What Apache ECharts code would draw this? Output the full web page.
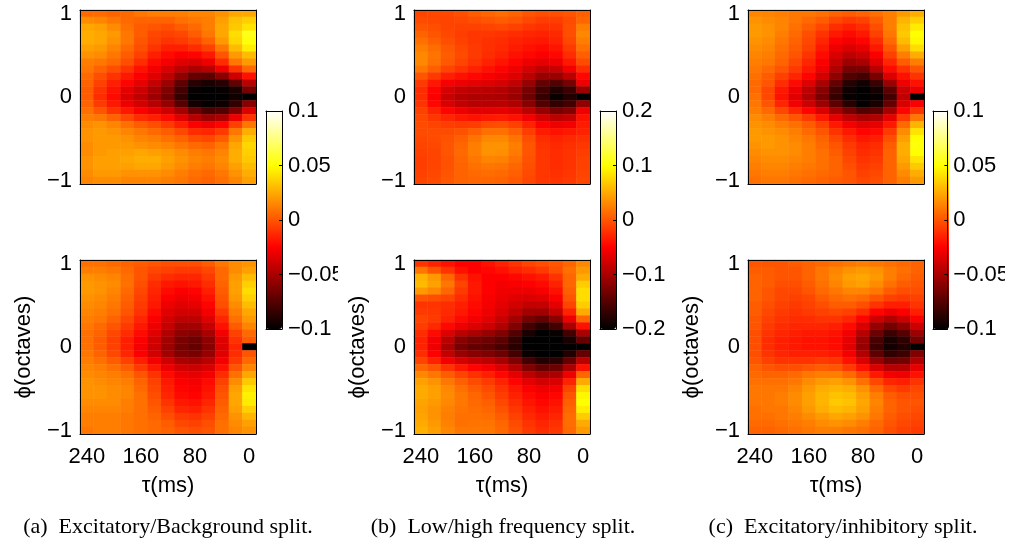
<!DOCTYPE html>
<html>
<head>
<meta charset="utf-8">
<script src="https://cdn.jsdelivr.net/npm/echarts@6/dist/echarts.min.js"></script>
<style>html,body{margin:0;padding:0;background:#fff;}#chart{width:1012px;height:548px;}</style>
</head>
<body>
<div id="chart"></div>
<script>
// ---- axis categories / tick labels ----
const tauLabels = [240,220,200,180,160,140,120,100,80,60,40,20,0];
const phiLabels = [-1,-0.917,-0.833,-0.75,-0.667,-0.583,-0.5,-0.417,-0.333,-0.25,-0.167,-0.083,0,0.083,0.167,0.25,0.333,0.417,0.5,0.583,0.667,0.75,0.833,0.917,1];
const captions = ['(a)  Excitatory/Background split.', '(b)  Low/high frequency split.', '(c)  Excitatory/inhibitory split.'];
const cbarRangeA = [-0.1, 0.1, 0.05];
const cbarRangeB = [-0.2, 0.2, 0.1];
const cbarRangeC = [-0.1, 0.1, 0.05];

// ---- values: rows from phi=1 (top) to phi=-1 (bottom), columns tau 240 -> 0 ----
const excBgTop = [
[0.006,0.006,0.004,0.006,0.010,0.012,0.012,0.012,0.014,0.014,0.018,0.024,0.024],
[0.016,0.014,0.010,0.006,0.004,0.004,0.004,0.008,0.010,0.012,0.022,0.032,0.036],
[0.024,0.022,0.016,0.008,0.002,0.000,-0.002,0.002,0.006,0.012,0.024,0.034,0.042],
[0.026,0.024,0.020,0.010,0.002,-0.004,-0.006,-0.004,0.002,0.010,0.024,0.040,0.055],
[0.026,0.024,0.018,0.010,0.000,-0.006,-0.010,-0.008,-0.004,0.004,0.020,0.038,0.052],
[0.022,0.020,0.014,0.006,-0.002,-0.010,-0.016,-0.016,-0.012,-0.006,0.010,0.030,0.045],
[0.018,0.016,0.010,0.002,-0.006,-0.016,-0.022,-0.026,-0.024,-0.018,0.000,0.020,0.030],
[0.012,0.010,0.006,-0.002,-0.012,-0.022,-0.028,-0.034,-0.036,-0.030,-0.012,0.010,0.020],
[0.010,0.004,-0.002,-0.010,-0.020,-0.028,-0.036,-0.044,-0.050,-0.046,-0.030,-0.010,0.006],
[0.006,-0.002,-0.010,-0.018,-0.026,-0.034,-0.044,-0.058,-0.070,-0.072,-0.060,-0.040,-0.020],
[0.004,-0.006,-0.016,-0.024,-0.032,-0.042,-0.054,-0.072,-0.088,-0.092,-0.088,-0.070,-0.045],
[0.002,-0.010,-0.020,-0.032,-0.040,-0.050,-0.062,-0.080,-0.098,-0.100,-0.098,-0.092,-0.065],
[0.002,-0.012,-0.022,-0.036,-0.044,-0.054,-0.066,-0.085,-0.100,-0.100,-0.100,-0.095,-0.100],
[0.004,-0.008,-0.018,-0.030,-0.038,-0.046,-0.056,-0.074,-0.094,-0.098,-0.096,-0.085,-0.060],
[0.008,0.000,-0.010,-0.018,-0.026,-0.032,-0.040,-0.052,-0.068,-0.078,-0.076,-0.062,-0.035],
[0.012,0.010,0.004,-0.004,-0.012,-0.016,-0.022,-0.034,-0.046,-0.054,-0.050,-0.030,-0.010],
[0.016,0.018,0.014,0.008,0.002,-0.002,-0.008,-0.016,-0.026,-0.030,-0.024,-0.006,0.010],
[0.018,0.020,0.018,0.014,0.010,0.006,0.002,-0.004,-0.012,-0.014,-0.008,0.010,0.026],
[0.018,0.020,0.020,0.018,0.014,0.012,0.008,0.004,-0.002,-0.004,0.002,0.018,0.034],
[0.016,0.020,0.020,0.020,0.018,0.016,0.014,0.010,0.006,0.004,0.010,0.024,0.038],
[0.016,0.020,0.022,0.022,0.024,0.022,0.020,0.016,0.012,0.010,0.014,0.026,0.036],
[0.018,0.022,0.022,0.024,0.026,0.026,0.022,0.018,0.014,0.012,0.016,0.026,0.034],
[0.018,0.022,0.022,0.022,0.024,0.024,0.020,0.016,0.012,0.010,0.014,0.022,0.030],
[0.016,0.020,0.020,0.018,0.018,0.018,0.016,0.012,0.008,0.006,0.010,0.018,0.026],
[0.014,0.016,0.016,0.014,0.014,0.014,0.012,0.010,0.006,0.004,0.008,0.014,0.022]
];
const excBgBottom = [
[0.008,0.008,0.006,0.004,0.002,0.000,-0.002,-0.002,-0.002,0.002,0.010,0.016,0.018],
[0.012,0.012,0.010,0.006,0.000,-0.004,-0.006,-0.008,-0.008,-0.004,0.006,0.016,0.022],
[0.018,0.016,0.014,0.008,0.000,-0.008,-0.012,-0.014,-0.014,-0.008,0.006,0.020,0.030],
[0.020,0.018,0.016,0.008,-0.002,-0.012,-0.018,-0.020,-0.018,-0.012,0.004,0.022,0.036],
[0.020,0.018,0.014,0.006,-0.004,-0.014,-0.022,-0.026,-0.024,-0.016,0.002,0.022,0.040],
[0.018,0.016,0.012,0.004,-0.006,-0.016,-0.026,-0.030,-0.028,-0.020,0.000,0.020,0.036],
[0.016,0.014,0.010,0.002,-0.008,-0.018,-0.030,-0.034,-0.032,-0.024,-0.002,0.016,0.030],
[0.014,0.012,0.008,0.000,-0.010,-0.022,-0.034,-0.038,-0.038,-0.028,-0.008,0.012,0.024],
[0.012,0.010,0.004,-0.004,-0.014,-0.026,-0.038,-0.044,-0.044,-0.034,-0.014,0.008,0.020],
[0.010,0.006,0.000,-0.008,-0.018,-0.030,-0.042,-0.052,-0.052,-0.042,-0.020,0.002,0.014],
[0.008,0.004,-0.004,-0.012,-0.022,-0.034,-0.048,-0.058,-0.060,-0.050,-0.028,-0.006,0.006],
[0.008,0.002,-0.006,-0.016,-0.026,-0.038,-0.052,-0.064,-0.068,-0.058,-0.034,-0.010,0.002],
[0.008,0.002,-0.006,-0.016,-0.028,-0.040,-0.054,-0.066,-0.070,-0.060,-0.036,-0.014,-0.100],
[0.010,0.004,-0.004,-0.014,-0.026,-0.038,-0.052,-0.062,-0.064,-0.056,-0.034,-0.012,0.000],
[0.012,0.008,0.002,-0.006,-0.016,-0.028,-0.040,-0.050,-0.052,-0.046,-0.028,-0.008,0.006],
[0.014,0.012,0.008,0.002,-0.008,-0.018,-0.030,-0.038,-0.040,-0.036,-0.020,0.000,0.014],
[0.016,0.014,0.012,0.008,0.000,-0.010,-0.022,-0.030,-0.032,-0.028,-0.012,0.008,0.024],
[0.018,0.016,0.014,0.012,0.004,-0.006,-0.018,-0.026,-0.028,-0.022,-0.006,0.016,0.034],
[0.018,0.018,0.016,0.014,0.006,-0.004,-0.016,-0.024,-0.026,-0.020,-0.002,0.022,0.042],
[0.018,0.018,0.016,0.014,0.008,-0.002,-0.014,-0.022,-0.024,-0.018,0.000,0.024,0.046],
[0.016,0.016,0.016,0.012,0.008,0.000,-0.010,-0.018,-0.020,-0.014,0.002,0.024,0.044],
[0.014,0.014,0.014,0.012,0.008,0.002,-0.006,-0.014,-0.016,-0.010,0.004,0.022,0.036],
[0.012,0.012,0.012,0.010,0.008,0.004,-0.002,-0.008,-0.010,-0.006,0.006,0.018,0.028],
[0.012,0.012,0.012,0.010,0.008,0.006,0.002,-0.004,-0.006,-0.002,0.008,0.016,0.022],
[0.010,0.012,0.012,0.010,0.008,0.006,0.004,0.000,-0.002,0.000,0.008,0.014,0.018]
];
const lowHighTop = [
[-0.010,-0.008,-0.008,-0.004,0.004,0.010,0.014,0.008,0.000,-0.004,-0.004,0.000,0.006],
[-0.006,-0.008,-0.010,-0.008,-0.004,0.000,0.004,0.000,-0.008,-0.014,-0.014,-0.006,0.010],
[0.000,-0.004,-0.010,-0.012,-0.012,-0.010,-0.008,-0.012,-0.018,-0.022,-0.020,-0.004,0.024],
[0.008,0.000,-0.008,-0.014,-0.018,-0.018,-0.020,-0.024,-0.028,-0.030,-0.026,-0.004,0.030],
[0.016,0.006,-0.004,-0.012,-0.018,-0.022,-0.024,-0.030,-0.034,-0.036,-0.030,-0.008,0.024],
[0.024,0.014,0.002,-0.008,-0.016,-0.022,-0.026,-0.034,-0.040,-0.044,-0.038,-0.016,0.016],
[0.030,0.018,0.004,-0.006,-0.016,-0.024,-0.030,-0.040,-0.046,-0.052,-0.046,-0.024,0.006],
[0.030,0.016,0.002,-0.010,-0.020,-0.030,-0.038,-0.048,-0.060,-0.066,-0.060,-0.036,-0.006],
[0.020,0.006,-0.010,-0.020,-0.030,-0.040,-0.048,-0.058,-0.074,-0.086,-0.082,-0.056,-0.024],
[0.000,-0.016,-0.032,-0.040,-0.046,-0.054,-0.060,-0.070,-0.090,-0.110,-0.110,-0.090,-0.046],
[-0.016,-0.036,-0.054,-0.060,-0.064,-0.068,-0.074,-0.086,-0.110,-0.140,-0.150,-0.130,-0.060],
[-0.024,-0.048,-0.074,-0.084,-0.088,-0.090,-0.094,-0.104,-0.130,-0.160,-0.180,-0.165,-0.110],
[-0.024,-0.052,-0.082,-0.094,-0.098,-0.098,-0.100,-0.110,-0.136,-0.168,-0.195,-0.180,-0.200],
[-0.020,-0.046,-0.072,-0.086,-0.092,-0.092,-0.090,-0.096,-0.120,-0.150,-0.170,-0.160,-0.115],
[-0.012,-0.030,-0.048,-0.060,-0.068,-0.066,-0.064,-0.070,-0.090,-0.112,-0.130,-0.122,-0.060],
[-0.008,-0.018,-0.028,-0.036,-0.040,-0.036,-0.034,-0.040,-0.056,-0.076,-0.090,-0.084,-0.040],
[-0.006,-0.010,-0.014,-0.016,-0.014,-0.006,-0.004,-0.012,-0.030,-0.050,-0.060,-0.056,-0.034],
[-0.006,-0.006,-0.006,-0.002,0.006,0.016,0.016,0.006,-0.014,-0.034,-0.040,-0.036,-0.030],
[-0.008,-0.006,-0.002,0.006,0.018,0.030,0.030,0.018,-0.004,-0.024,-0.030,-0.026,-0.022],
[-0.010,-0.008,0.000,0.010,0.024,0.036,0.036,0.024,0.000,-0.020,-0.026,-0.022,-0.018],
[-0.012,-0.010,0.000,0.012,0.024,0.036,0.034,0.022,0.000,-0.018,-0.024,-0.020,-0.014],
[-0.014,-0.010,-0.002,0.010,0.020,0.028,0.026,0.016,-0.002,-0.018,-0.024,-0.020,-0.012],
[-0.014,-0.010,-0.002,0.008,0.016,0.020,0.018,0.010,-0.004,-0.018,-0.024,-0.020,-0.012],
[-0.012,-0.008,0.000,0.008,0.012,0.014,0.012,0.006,-0.006,-0.018,-0.022,-0.018,-0.010],
[-0.010,-0.006,0.002,0.008,0.010,0.010,0.008,0.002,-0.008,-0.018,-0.020,-0.016,-0.008]
];
const lowHighBottom = [
[-0.020,-0.030,-0.040,-0.050,-0.050,-0.040,-0.030,-0.020,-0.010,-0.004,0.000,0.010,0.030],
[0.020,0.000,-0.020,-0.040,-0.050,-0.046,-0.040,-0.030,-0.024,-0.016,-0.004,0.016,0.040],
[0.055,0.040,0.010,-0.020,-0.040,-0.050,-0.050,-0.046,-0.040,-0.034,-0.020,0.010,0.050],
[0.060,0.045,0.020,-0.010,-0.036,-0.050,-0.056,-0.054,-0.050,-0.044,-0.030,0.010,0.070],
[0.040,0.030,0.010,-0.016,-0.036,-0.050,-0.058,-0.060,-0.060,-0.054,-0.040,0.006,0.080],
[0.000,-0.004,-0.010,-0.024,-0.040,-0.054,-0.062,-0.068,-0.072,-0.068,-0.052,0.000,0.080],
[-0.020,-0.020,-0.024,-0.032,-0.044,-0.056,-0.066,-0.076,-0.086,-0.084,-0.066,-0.010,0.070],
[-0.016,-0.018,-0.026,-0.036,-0.048,-0.060,-0.072,-0.088,-0.104,-0.106,-0.086,-0.030,0.050],
[-0.010,-0.016,-0.030,-0.044,-0.056,-0.066,-0.082,-0.104,-0.130,-0.140,-0.120,-0.060,0.010],
[-0.014,-0.026,-0.046,-0.060,-0.070,-0.080,-0.096,-0.124,-0.160,-0.176,-0.160,-0.100,-0.040],
[-0.024,-0.044,-0.070,-0.090,-0.100,-0.110,-0.124,-0.150,-0.185,-0.200,-0.195,-0.160,-0.100],
[-0.030,-0.056,-0.090,-0.120,-0.130,-0.136,-0.146,-0.170,-0.200,-0.200,-0.200,-0.185,-0.140],
[-0.030,-0.060,-0.100,-0.130,-0.140,-0.146,-0.156,-0.176,-0.200,-0.200,-0.200,-0.200,-0.200],
[-0.024,-0.050,-0.086,-0.110,-0.120,-0.126,-0.136,-0.160,-0.195,-0.200,-0.200,-0.180,-0.140],
[-0.010,-0.030,-0.056,-0.074,-0.084,-0.090,-0.102,-0.126,-0.160,-0.180,-0.175,-0.140,-0.090],
[0.010,0.000,-0.020,-0.036,-0.048,-0.056,-0.070,-0.094,-0.124,-0.140,-0.136,-0.100,-0.040],
[0.030,0.020,0.004,-0.010,-0.022,-0.032,-0.046,-0.066,-0.090,-0.104,-0.100,-0.060,0.010],
[0.044,0.036,0.020,0.006,-0.006,-0.016,-0.030,-0.048,-0.066,-0.076,-0.072,-0.030,0.050],
[0.050,0.044,0.030,0.016,0.004,-0.006,-0.020,-0.036,-0.052,-0.060,-0.056,-0.010,0.080],
[0.050,0.044,0.032,0.020,0.010,0.000,-0.014,-0.030,-0.044,-0.052,-0.046,0.000,0.095],
[0.046,0.040,0.030,0.020,0.012,0.006,-0.008,-0.024,-0.038,-0.046,-0.040,0.006,0.100],
[0.044,0.036,0.026,0.018,0.014,0.010,-0.002,-0.018,-0.032,-0.040,-0.034,0.010,0.090],
[0.046,0.036,0.024,0.016,0.016,0.014,0.004,-0.012,-0.026,-0.034,-0.028,0.014,0.070],
[0.050,0.040,0.026,0.016,0.018,0.018,0.010,-0.006,-0.020,-0.028,-0.022,0.014,0.050],
[0.054,0.044,0.030,0.020,0.020,0.020,0.012,-0.002,-0.016,-0.024,-0.018,0.012,0.040]
];
const excInhTop = [
[0.014,0.014,0.012,0.010,0.010,0.008,0.004,0.002,0.004,0.008,0.012,0.020,0.026],
[0.018,0.016,0.014,0.010,0.006,0.002,-0.004,-0.008,-0.006,0.002,0.012,0.028,0.036],
[0.020,0.018,0.014,0.008,0.002,-0.004,-0.012,-0.016,-0.012,-0.002,0.012,0.032,0.044],
[0.020,0.018,0.012,0.006,-0.002,-0.010,-0.018,-0.022,-0.018,-0.006,0.010,0.034,0.050],
[0.018,0.016,0.010,0.004,-0.004,-0.014,-0.024,-0.028,-0.024,-0.012,0.006,0.030,0.048],
[0.016,0.014,0.008,0.002,-0.006,-0.018,-0.030,-0.036,-0.032,-0.018,0.000,0.022,0.040],
[0.014,0.012,0.006,0.000,-0.010,-0.022,-0.036,-0.044,-0.040,-0.026,-0.006,0.012,0.026],
[0.012,0.010,0.004,-0.004,-0.014,-0.026,-0.042,-0.054,-0.050,-0.034,-0.014,0.002,0.012],
[0.010,0.006,0.000,-0.008,-0.018,-0.030,-0.048,-0.064,-0.064,-0.046,-0.022,-0.010,0.000],
[0.008,0.002,-0.006,-0.014,-0.024,-0.038,-0.058,-0.076,-0.080,-0.064,-0.036,-0.020,-0.010],
[0.006,0.000,-0.012,-0.022,-0.034,-0.050,-0.070,-0.088,-0.094,-0.082,-0.054,-0.030,-0.020],
[0.006,-0.004,-0.018,-0.030,-0.044,-0.060,-0.080,-0.096,-0.100,-0.094,-0.072,-0.040,-0.030],
[0.008,-0.004,-0.020,-0.034,-0.048,-0.064,-0.084,-0.098,-0.100,-0.098,-0.080,-0.044,-0.100],
[0.010,0.000,-0.014,-0.028,-0.040,-0.054,-0.072,-0.088,-0.098,-0.092,-0.070,-0.036,-0.026],
[0.012,0.006,-0.004,-0.014,-0.024,-0.036,-0.052,-0.066,-0.076,-0.072,-0.052,-0.024,-0.010],
[0.016,0.012,0.006,0.000,-0.008,-0.018,-0.032,-0.044,-0.050,-0.048,-0.032,-0.008,0.010],
[0.018,0.016,0.012,0.008,0.002,-0.006,-0.018,-0.028,-0.034,-0.032,-0.018,0.006,0.028],
[0.020,0.018,0.016,0.012,0.006,0.000,-0.010,-0.018,-0.024,-0.022,-0.008,0.016,0.042],
[0.020,0.020,0.018,0.014,0.010,0.004,-0.004,-0.012,-0.018,-0.016,-0.002,0.022,0.050],
[0.018,0.020,0.018,0.016,0.012,0.006,0.000,-0.008,-0.014,-0.012,0.002,0.026,0.052],
[0.016,0.018,0.018,0.016,0.012,0.008,0.002,-0.006,-0.012,-0.010,0.004,0.026,0.050],
[0.014,0.016,0.016,0.014,0.012,0.008,0.004,-0.004,-0.010,-0.008,0.004,0.024,0.042],
[0.012,0.014,0.014,0.012,0.010,0.008,0.004,-0.002,-0.008,-0.006,0.004,0.020,0.034],
[0.010,0.012,0.012,0.010,0.008,0.006,0.004,0.000,-0.006,-0.004,0.004,0.016,0.026],
[0.008,0.010,0.010,0.008,0.006,0.004,0.002,0.000,-0.004,-0.002,0.004,0.012,0.020]
];
const excInhBottom = [
[0.000,0.000,0.000,0.002,0.004,0.006,0.008,0.010,0.012,0.010,0.008,0.006,0.004],
[0.002,0.002,0.000,0.000,0.004,0.010,0.014,0.018,0.020,0.018,0.012,0.008,0.004],
[0.004,0.002,0.000,0.000,0.004,0.010,0.016,0.022,0.024,0.020,0.012,0.006,0.002],
[0.004,0.002,-0.002,-0.002,0.002,0.008,0.014,0.020,0.022,0.016,0.008,0.002,0.000],
[0.004,0.000,-0.004,-0.004,0.000,0.006,0.010,0.014,0.014,0.010,0.002,-0.002,-0.002],
[0.004,0.000,-0.004,-0.006,-0.004,0.002,0.006,0.008,0.006,0.000,-0.006,-0.008,-0.006],
[0.002,-0.002,-0.006,-0.008,-0.006,-0.002,0.002,0.002,-0.002,-0.010,-0.016,-0.016,-0.010],
[0.002,-0.004,-0.008,-0.010,-0.008,-0.006,-0.004,-0.006,-0.012,-0.024,-0.030,-0.026,-0.016],
[0.000,-0.006,-0.010,-0.012,-0.012,-0.010,-0.010,-0.014,-0.024,-0.040,-0.048,-0.040,-0.026],
[0.000,-0.008,-0.012,-0.014,-0.014,-0.014,-0.016,-0.022,-0.036,-0.056,-0.066,-0.058,-0.040],
[-0.002,-0.010,-0.014,-0.016,-0.018,-0.018,-0.020,-0.028,-0.046,-0.068,-0.082,-0.074,-0.054],
[-0.002,-0.012,-0.016,-0.018,-0.020,-0.020,-0.022,-0.032,-0.054,-0.078,-0.092,-0.086,-0.066],
[-0.002,-0.012,-0.016,-0.018,-0.020,-0.020,-0.022,-0.034,-0.056,-0.082,-0.094,-0.090,-0.100],
[-0.002,-0.010,-0.014,-0.016,-0.016,-0.016,-0.018,-0.028,-0.048,-0.072,-0.086,-0.082,-0.062],
[0.000,-0.006,-0.010,-0.010,-0.010,-0.008,-0.010,-0.020,-0.036,-0.056,-0.068,-0.066,-0.048],
[0.004,0.000,-0.002,-0.002,0.000,0.002,0.000,-0.008,-0.020,-0.036,-0.046,-0.046,-0.032],
[0.006,0.004,0.004,0.006,0.010,0.012,0.012,0.006,-0.004,-0.018,-0.028,-0.030,-0.020],
[0.008,0.008,0.008,0.010,0.016,0.020,0.022,0.018,0.008,-0.004,-0.014,-0.016,-0.010],
[0.010,0.010,0.010,0.014,0.020,0.026,0.028,0.026,0.018,0.006,-0.004,-0.008,-0.004],
[0.010,0.010,0.012,0.016,0.022,0.028,0.032,0.030,0.022,0.012,0.002,-0.002,-0.002],
[0.010,0.010,0.012,0.016,0.022,0.028,0.034,0.032,0.024,0.014,0.004,0.000,0.000],
[0.008,0.010,0.010,0.014,0.020,0.026,0.030,0.028,0.022,0.012,0.004,0.000,-0.002],
[0.008,0.008,0.010,0.012,0.016,0.020,0.024,0.022,0.018,0.010,0.002,-0.002,-0.004],
[0.006,0.006,0.008,0.010,0.012,0.016,0.018,0.016,0.012,0.006,0.000,-0.004,-0.006],
[0.004,0.004,0.006,0.008,0.010,0.012,0.012,0.010,0.008,0.004,-0.002,-0.006,-0.008]
];

// ---- build ----
const hot = ['#000000','#550000','#aa0000','#ff0000','#ff5500','#ffaa00','#ffff00','#ffff80','#ffffff'];
const FONT = 'Liberation Sans, Arial, Helvetica, sans-serif';
const lab = {fontFamily: FONT, fontSize: 22, color: '#000'};
const minus = v => String(v).replace('-', '\u2212');

function toCells(matrix) {
  const out = [];
  const nRows = matrix.length;
  matrix.forEach((row, r) => row.forEach((v, c) => out.push([c, nRows - 1 - r, v])));
  return out;
}

const panels = [
  {m: excBgTop, left: 80, top: 10, bottomRow: false},
  {m: excBgBottom, left: 80, top: 260, bottomRow: true},
  {m: lowHighTop, left: 414, top: 10, bottomRow: false},
  {m: lowHighBottom, left: 414, top: 260, bottomRow: true},
  {m: excInhTop, left: 748, top: 10, bottomRow: false},
  {m: excInhBottom, left: 748, top: 260, bottomRow: true}
];
const bars = [
  {r: cbarRangeA, left: 266},
  {r: cbarRangeB, left: 600},
  {r: cbarRangeC, left: 933}
];

const grids = [], xAxes = [], yAxes = [], series = [];
const blackLine = {show: true, onZero: false, lineStyle: {color: '#000', width: 1}};

panels.forEach(p => {
  const gi = grids.length;
  grids.push({left: p.left, top: p.top, width: 176, height: 174});
  const xi = xAxes.length;
  xAxes.push({gridIndex: gi, type: 'category', data: tauLabels, position: 'bottom', z: 5,
    axisLine: blackLine, axisTick: {show: false}, splitLine: {show: false},
    axisLabel: {show: p.bottomRow, interval: 3, margin: 12, ...lab},
    name: p.bottomRow ? 'τ(ms)' : '', nameLocation: 'middle', nameGap: 41,
    nameTextStyle: {...lab}});
  xAxes.push({gridIndex: gi, type: 'category', data: tauLabels, position: 'top', z: 5,
    axisLine: blackLine, axisTick: {show: false}, axisLabel: {show: false}, splitLine: {show: false}});
  const yi = yAxes.length;
  yAxes.push({gridIndex: gi, type: 'category', data: phiLabels, position: 'left', z: 5,
    axisLine: blackLine, axisTick: {show: false}, splitLine: {show: false},
    axisLabel: {interval: 11, margin: 8, formatter: v => minus(v), ...lab},
    name: p.bottomRow ? 'ϕ(octaves)' : '', nameLocation: 'middle', nameGap: 45, nameRotate: 90,
    nameTextStyle: {...lab}});
  yAxes.push({gridIndex: gi, type: 'category', data: phiLabels, position: 'right', z: 5,
    axisLine: blackLine, axisTick: {show: false}, axisLabel: {show: false}, splitLine: {show: false}});
  series.push({type: 'heatmap', xAxisIndex: xi, yAxisIndex: yi, data: toCells(p.m),
    itemStyle: {borderWidth: 0}, emphasis: {disabled: true}, animation: false, progressive: 0});
});

bars.forEach(b => {
  const gi = grids.length;
  grids.push({left: b.left, top: 111, width: 16, height: 218});
  xAxes.push({gridIndex: gi, type: 'value', min: 0, max: 1, position: 'bottom', z: 10,
    axisLine: blackLine, axisTick: {show: false}, axisLabel: {show: false}, splitLine: {show: false}});
  xAxes.push({gridIndex: gi, type: 'value', min: 0, max: 1, position: 'top', z: 10,
    axisLine: blackLine, axisTick: {show: false}, axisLabel: {show: false}, splitLine: {show: false}});
  yAxes.push({gridIndex: gi, type: 'value', min: b.r[0], max: b.r[1], interval: b.r[2], position: 'left', z: 10,
    axisLine: blackLine, axisTick: {show: false}, axisLabel: {show: false}, splitLine: {show: false}});
  yAxes.push({gridIndex: gi, type: 'value', min: b.r[0], max: b.r[1], interval: b.r[2], position: 'right', z: 10,
    axisLine: blackLine, axisTick: {show: true, inside: true, length: 3, lineStyle: {color: '#000'}},
    axisLabel: {margin: 6, formatter: v => minus(+v.toFixed(2)), ...lab}, splitLine: {show: false}});
});

const visualMaps = bars.map((b, i) => ({
  type: 'continuous', min: b.r[0], max: b.r[1], seriesIndex: [2 * i, 2 * i + 1],
  left: b.left, top: 111, itemWidth: 16, itemHeight: 218, padding: 0,
  calculable: false, hoverLink: false, realtime: false, text: null, showLabel: false,
  inRange: {color: hot}
}));

const captionX = [168, 503, 843];
const graphics = captions.map((t, i) => ({
  type: 'text', x: captionX[i], y: 527,
  style: {text: t, fill: '#000', font: '22px "Liberation Serif", "Times New Roman", serif',
    textAlign: 'center', textVerticalAlign: 'middle'}
}));
graphics.push({type: 'rect', shape: {x: 338, y: 255, width: 12, height: 40}, style: {fill: '#fff'}, z: 100});
graphics.push({type: 'rect', shape: {x: 1005, y: 255, width: 12, height: 40}, style: {fill: '#fff'}, z: 100});

const chart = echarts.init(document.getElementById('chart'), null, {renderer: 'canvas'});
chart.setOption({
  animation: false,
  backgroundColor: '#fff',
  grid: grids, xAxis: xAxes, yAxis: yAxes,
  visualMap: visualMaps,
  series: series,
  graphic: graphics
});
</script>
</body>
</html>
